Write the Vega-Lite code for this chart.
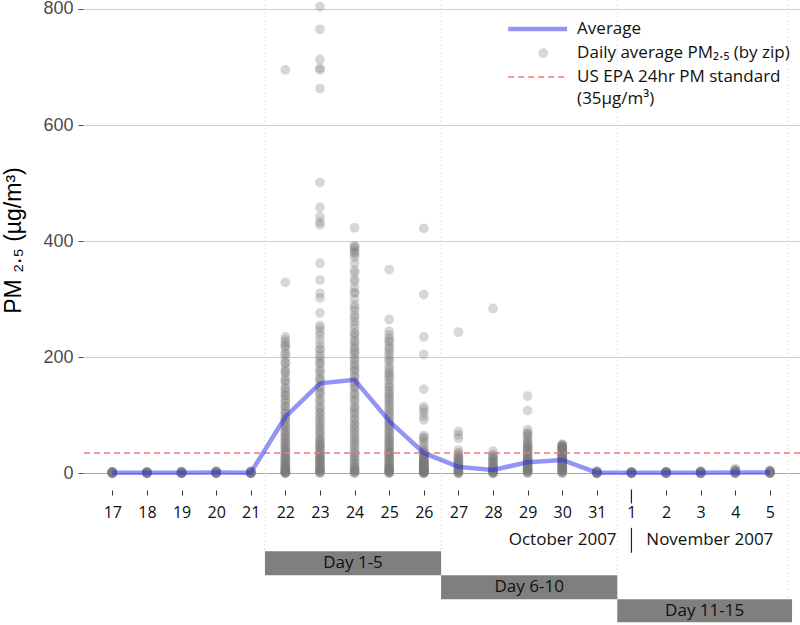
{
  "$schema": "https://vega.github.io/schema/vega-lite/v6.json",
  "autosize": {"type": "none"},
  "padding": {"left": 83, "top": 0, "right": 0, "bottom": 137},
  "width": 717,
  "height": 488,
  "background": "white",
  "config": {"view": {"stroke": null}, "font": "Open Sans", "axisX": {"tickCount": 20, "labelOverlap": false}},
  "datasets": {
    "zips": [
      {"d":0,"v":0},{"d":0,"v":0.5},{"d":0,"v":1},{"d":0,"v":1.5},{"d":0,"v":2},{"d":0,"v":3},{"d":0,"v":0},{"d":0,"v":0.3},{"d":0,"v":0.8},{"d":0,"v":1.2},{"d":0,"v":0.6},{"d":0,"v":1.8},
      {"d":1,"v":0},{"d":1,"v":0.5},{"d":1,"v":1},{"d":1,"v":1.5},{"d":1,"v":2},{"d":1,"v":2.5},{"d":1,"v":0},{"d":1,"v":0.3},{"d":1,"v":0.8},{"d":1,"v":1.2},{"d":1,"v":0.6},{"d":1,"v":1.8},
      {"d":2,"v":0},{"d":2,"v":0.5},{"d":2,"v":1},{"d":2,"v":2},{"d":2,"v":2.5},{"d":2,"v":3},{"d":2,"v":0},{"d":2,"v":0.3},{"d":2,"v":0.8},{"d":2,"v":1.2},{"d":2,"v":0.6},{"d":2,"v":1.8},
      {"d":3,"v":0},{"d":3,"v":1},{"d":3,"v":1.5},{"d":3,"v":2},{"d":3,"v":3},{"d":3,"v":4},{"d":3,"v":0},{"d":3,"v":0.3},{"d":3,"v":0.8},{"d":3,"v":1.2},{"d":3,"v":0.6},{"d":3,"v":2.5},
      {"d":4,"v":0},{"d":4,"v":0.5},{"d":4,"v":1},{"d":4,"v":2},{"d":4,"v":3},{"d":4,"v":3.5},{"d":4,"v":0},{"d":4,"v":0.3},{"d":4,"v":0.8},{"d":4,"v":1.2},{"d":4,"v":0.6},{"d":4,"v":1.8},
      {"d":5,"v":695},{"d":5,"v":329},{"d":5,"v":235},{"d":5,"v":230},{"d":5,"v":226},{"d":5,"v":220},{"d":5,"v":214},{"d":5,"v":206},{"d":5,"v":198},{"d":5,"v":190},
      {"d":5,"v":182},{"d":5,"v":175},{"d":5,"v":168},{"d":5,"v":160},{"d":5,"v":154},{"d":5,"v":147},{"d":5,"v":140},{"d":5,"v":134},{"d":5,"v":128},{"d":5,"v":121},
      {"d":5,"v":115},{"d":5,"v":109},{"d":5,"v":103},{"d":5,"v":97},{"d":5,"v":92},{"d":5,"v":86},{"d":5,"v":80},{"d":5,"v":75},{"d":5,"v":70},{"d":5,"v":65},
      {"d":5,"v":60},{"d":5,"v":55},{"d":5,"v":50},{"d":5,"v":46},{"d":5,"v":42},{"d":5,"v":38},{"d":5,"v":34},{"d":5,"v":30},{"d":5,"v":27},{"d":5,"v":24},
      {"d":5,"v":20},{"d":5,"v":17},{"d":5,"v":14},{"d":5,"v":11},{"d":5,"v":8},{"d":5,"v":6},{"d":5,"v":4},{"d":5,"v":2},{"d":5,"v":1},{"d":5,"v":0},
      {"d":5,"v":0},{"d":5,"v":1},{"d":5,"v":2},{"d":5,"v":3},{"d":5,"v":5},{"d":5,"v":7},{"d":5,"v":9},{"d":5,"v":12},{"d":5,"v":15},{"d":5,"v":18},
      {"d":5,"v":22},{"d":5,"v":26},{"d":5,"v":30},{"d":5,"v":35},{"d":5,"v":40},{"d":5,"v":45},{"d":5,"v":52},{"d":5,"v":58},{"d":5,"v":64},{"d":5,"v":72},
      {"d":5,"v":80},{"d":5,"v":88},{"d":5,"v":96},{"d":5,"v":105},{"d":5,"v":115},{"d":5,"v":125},{"d":5,"v":135},{"d":5,"v":145},{"d":5,"v":160},{"d":5,"v":175},
      {"d":5,"v":190},{"d":5,"v":205},{"d":5,"v":220},
      {"d":6,"v":804},{"d":6,"v":765},{"d":6,"v":713},{"d":6,"v":698},{"d":6,"v":695},{"d":6,"v":663},{"d":6,"v":501},{"d":6,"v":458},{"d":6,"v":442},{"d":6,"v":433},
      {"d":6,"v":428},{"d":6,"v":362},{"d":6,"v":333},{"d":6,"v":310},{"d":6,"v":302},{"d":6,"v":276},{"d":6,"v":255},{"d":6,"v":250},{"d":6,"v":244},{"d":6,"v":238},
      {"d":6,"v":230},{"d":6,"v":222},{"d":6,"v":212},{"d":6,"v":205},{"d":6,"v":195},{"d":6,"v":188},{"d":6,"v":180},{"d":6,"v":172},{"d":6,"v":165},{"d":6,"v":158},
      {"d":6,"v":150},{"d":6,"v":142},{"d":6,"v":135},{"d":6,"v":128},{"d":6,"v":120},{"d":6,"v":112},{"d":6,"v":105},{"d":6,"v":98},{"d":6,"v":90},{"d":6,"v":82},
      {"d":6,"v":75},{"d":6,"v":68},{"d":6,"v":60},{"d":6,"v":52},{"d":6,"v":45},{"d":6,"v":40},{"d":6,"v":35},{"d":6,"v":30},{"d":6,"v":26},{"d":6,"v":22},
      {"d":6,"v":18},{"d":6,"v":14},{"d":6,"v":10},{"d":6,"v":6},{"d":6,"v":3},{"d":6,"v":1},{"d":6,"v":0},{"d":6,"v":8},{"d":6,"v":16},{"d":6,"v":24},
      {"d":6,"v":33},{"d":6,"v":48},{"d":6,"v":56},
      {"d":6,"v":2},{"d":6,"v":4},{"d":6,"v":7},{"d":6,"v":11},{"d":6,"v":15},{"d":6,"v":20},{"d":6,"v":25},{"d":6,"v":30},{"d":6,"v":38},{"d":6,"v":44},
      {"d":6,"v":50},{"d":6,"v":58},{"d":6,"v":65},{"d":6,"v":72},{"d":6,"v":80},{"d":6,"v":88},{"d":6,"v":95},{"d":6,"v":104},{"d":6,"v":113},{"d":6,"v":125},
      {"d":6,"v":138},{"d":6,"v":148},{"d":6,"v":162},{"d":6,"v":176},{"d":6,"v":190},{"d":6,"v":200},{"d":6,"v":215},
      {"d":7,"v":423},{"d":7,"v":392},{"d":7,"v":388},{"d":7,"v":383},{"d":7,"v":378},{"d":7,"v":372},{"d":7,"v":350},{"d":7,"v":345},{"d":7,"v":335},{"d":7,"v":320},
      {"d":7,"v":312},{"d":7,"v":300},{"d":7,"v":290},{"d":7,"v":280},{"d":7,"v":272},{"d":7,"v":262},{"d":7,"v":250},{"d":7,"v":242},{"d":7,"v":235},{"d":7,"v":228},
      {"d":7,"v":220},{"d":7,"v":212},{"d":7,"v":205},{"d":7,"v":198},{"d":7,"v":190},{"d":7,"v":182},{"d":7,"v":175},{"d":7,"v":168},{"d":7,"v":160},{"d":7,"v":152},
      {"d":7,"v":145},{"d":7,"v":138},{"d":7,"v":130},{"d":7,"v":122},{"d":7,"v":115},{"d":7,"v":108},{"d":7,"v":100},{"d":7,"v":92},{"d":7,"v":85},{"d":7,"v":78},
      {"d":7,"v":70},{"d":7,"v":62},{"d":7,"v":55},{"d":7,"v":48},{"d":7,"v":40},{"d":7,"v":34},{"d":7,"v":28},{"d":7,"v":22},{"d":7,"v":16},{"d":7,"v":10},
      {"d":7,"v":5},{"d":7,"v":2},{"d":7,"v":0},
      {"d":7,"v":1},{"d":7,"v":3},{"d":7,"v":6},{"d":7,"v":9},{"d":7,"v":13},{"d":7,"v":18},{"d":7,"v":24},{"d":7,"v":30},{"d":7,"v":36},{"d":7,"v":44},
      {"d":7,"v":52},{"d":7,"v":60},{"d":7,"v":68},{"d":7,"v":76},{"d":7,"v":84},{"d":7,"v":94},{"d":7,"v":104},{"d":7,"v":112},{"d":7,"v":126},{"d":7,"v":136},
      {"d":7,"v":148},{"d":7,"v":156},{"d":7,"v":166},{"d":7,"v":178},{"d":7,"v":186},{"d":7,"v":196},{"d":7,"v":208},{"d":7,"v":216},{"d":7,"v":226},{"d":7,"v":240},
      {"d":7,"v":256},{"d":7,"v":268},{"d":7,"v":285},{"d":7,"v":310},{"d":7,"v":330},{"d":7,"v":362},{"d":7,"v":380},{"d":7,"v":390},
      {"d":8,"v":351},{"d":8,"v":265},{"d":8,"v":245},{"d":8,"v":238},{"d":8,"v":232},{"d":8,"v":225},{"d":8,"v":218},{"d":8,"v":210},{"d":8,"v":200},{"d":8,"v":192},
      {"d":8,"v":185},{"d":8,"v":176},{"d":8,"v":168},{"d":8,"v":160},{"d":8,"v":150},{"d":8,"v":142},{"d":8,"v":135},{"d":8,"v":128},{"d":8,"v":120},{"d":8,"v":112},
      {"d":8,"v":105},{"d":8,"v":98},{"d":8,"v":90},{"d":8,"v":84},{"d":8,"v":78},{"d":8,"v":72},{"d":8,"v":66},{"d":8,"v":60},{"d":8,"v":55},{"d":8,"v":50},
      {"d":8,"v":45},{"d":8,"v":40},{"d":8,"v":36},{"d":8,"v":32},{"d":8,"v":28},{"d":8,"v":24},{"d":8,"v":20},{"d":8,"v":17},{"d":8,"v":14},{"d":8,"v":11},
      {"d":8,"v":8},{"d":8,"v":6},{"d":8,"v":4},{"d":8,"v":2},{"d":8,"v":1},{"d":8,"v":0},
      {"d":8,"v":1},{"d":8,"v":3},{"d":8,"v":5},{"d":8,"v":9},{"d":8,"v":12},{"d":8,"v":16},{"d":8,"v":22},{"d":8,"v":26},{"d":8,"v":30},{"d":8,"v":34},
      {"d":8,"v":38},{"d":8,"v":43},{"d":8,"v":48},{"d":8,"v":53},{"d":8,"v":58},{"d":8,"v":63},{"d":8,"v":70},{"d":8,"v":76},{"d":8,"v":82},{"d":8,"v":88},
      {"d":8,"v":95},{"d":8,"v":102},{"d":8,"v":110},{"d":8,"v":118},{"d":8,"v":125},{"d":8,"v":132},{"d":8,"v":140},{"d":8,"v":148},{"d":8,"v":155},{"d":8,"v":165},
      {"d":8,"v":172},{"d":8,"v":180},{"d":8,"v":195},{"d":8,"v":205},{"d":8,"v":215},{"d":8,"v":228},
      {"d":9,"v":422},{"d":9,"v":308},{"d":9,"v":235},{"d":9,"v":205},{"d":9,"v":145},{"d":9,"v":115},{"d":9,"v":110},{"d":9,"v":105},{"d":9,"v":98},{"d":9,"v":92},
      {"d":9,"v":65},{"d":9,"v":60},{"d":9,"v":45},{"d":9,"v":40},{"d":9,"v":35},{"d":9,"v":32},{"d":9,"v":30},{"d":9,"v":28},{"d":9,"v":25},{"d":9,"v":22},
      {"d":9,"v":20},{"d":9,"v":18},{"d":9,"v":15},{"d":9,"v":12},{"d":9,"v":10},{"d":9,"v":8},{"d":9,"v":6},{"d":9,"v":4},{"d":9,"v":2},{"d":9,"v":1},
      {"d":9,"v":0},{"d":9,"v":3},{"d":9,"v":5},{"d":9,"v":7},{"d":9,"v":9},{"d":9,"v":14},{"d":9,"v":19},{"d":9,"v":24},
      {"d":9,"v":0},{"d":9,"v":1},{"d":9,"v":2},{"d":9,"v":3},{"d":9,"v":4},{"d":9,"v":5},{"d":9,"v":6},{"d":9,"v":8},{"d":9,"v":10},{"d":9,"v":12},
      {"d":9,"v":14},{"d":9,"v":16},{"d":9,"v":18},{"d":9,"v":20},{"d":9,"v":22},{"d":9,"v":26},{"d":9,"v":30},{"d":9,"v":34},{"d":9,"v":38},{"d":9,"v":50},
      {"d":9,"v":55},{"d":9,"v":62},
      {"d":10,"v":243},{"d":10,"v":72},{"d":10,"v":66},{"d":10,"v":60},{"d":10,"v":40},{"d":10,"v":35},{"d":10,"v":30},{"d":10,"v":26},{"d":10,"v":22},{"d":10,"v":18},
      {"d":10,"v":15},{"d":10,"v":12},{"d":10,"v":9},{"d":10,"v":6},{"d":10,"v":3},{"d":10,"v":1},{"d":10,"v":0},
      {"d":10,"v":0},{"d":10,"v":2},{"d":10,"v":4},{"d":10,"v":5},{"d":10,"v":8},{"d":10,"v":10},{"d":10,"v":14},{"d":10,"v":17},{"d":10,"v":20},{"d":10,"v":24},
      {"d":10,"v":28},{"d":10,"v":33},
      {"d":11,"v":284},{"d":11,"v":38},{"d":11,"v":32},{"d":11,"v":28},{"d":11,"v":24},{"d":11,"v":20},{"d":11,"v":16},{"d":11,"v":12},{"d":11,"v":8},{"d":11,"v":5},
      {"d":11,"v":3},{"d":11,"v":1},{"d":11,"v":0},
      {"d":11,"v":0},{"d":11,"v":1},{"d":11,"v":2},{"d":11,"v":4},{"d":11,"v":6},{"d":11,"v":9},{"d":11,"v":11},{"d":11,"v":14},{"d":11,"v":18},{"d":11,"v":22},
      {"d":11,"v":26},{"d":11,"v":30},
      {"d":12,"v":133},{"d":12,"v":108},{"d":12,"v":75},{"d":12,"v":70},{"d":12,"v":65},{"d":12,"v":58},{"d":12,"v":52},{"d":12,"v":48},{"d":12,"v":44},{"d":12,"v":40},
      {"d":12,"v":36},{"d":12,"v":32},{"d":12,"v":28},{"d":12,"v":25},{"d":12,"v":22},{"d":12,"v":19},{"d":12,"v":16},{"d":12,"v":13},{"d":12,"v":10},{"d":12,"v":8},
      {"d":12,"v":6},{"d":12,"v":4},{"d":12,"v":2},{"d":12,"v":1},{"d":12,"v":0},
      {"d":12,"v":3},{"d":12,"v":5},{"d":12,"v":7},{"d":12,"v":9},{"d":12,"v":12},{"d":12,"v":15},{"d":12,"v":18},{"d":12,"v":21},{"d":12,"v":24},{"d":12,"v":27},
      {"d":12,"v":30},{"d":12,"v":34},{"d":12,"v":38},{"d":12,"v":42},{"d":12,"v":46},{"d":12,"v":50},{"d":12,"v":55},{"d":12,"v":62},{"d":12,"v":68},
      {"d":13,"v":50},{"d":13,"v":48},{"d":13,"v":46},{"d":13,"v":44},{"d":13,"v":42},{"d":13,"v":40},{"d":13,"v":38},{"d":13,"v":36},{"d":13,"v":34},{"d":13,"v":32},
      {"d":13,"v":30},{"d":13,"v":28},{"d":13,"v":26},{"d":13,"v":24},{"d":13,"v":22},{"d":13,"v":20},{"d":13,"v":18},{"d":13,"v":15},{"d":13,"v":12},{"d":13,"v":9},
      {"d":13,"v":6},{"d":13,"v":3},{"d":13,"v":1},{"d":13,"v":0},
      {"d":13,"v":2},{"d":13,"v":4},{"d":13,"v":5},{"d":13,"v":7},{"d":13,"v":8},{"d":13,"v":10},{"d":13,"v":11},{"d":13,"v":13},{"d":13,"v":14},{"d":13,"v":16},
      {"d":13,"v":17},{"d":13,"v":19},{"d":13,"v":21},{"d":13,"v":23},{"d":13,"v":25},{"d":13,"v":27},{"d":13,"v":29},{"d":13,"v":31},{"d":13,"v":33},{"d":13,"v":35},
      {"d":13,"v":37},{"d":13,"v":39},{"d":13,"v":41},{"d":13,"v":43},{"d":13,"v":45},{"d":13,"v":47},{"d":13,"v":49},
      {"d":14,"v":0},{"d":14,"v":0.5},{"d":14,"v":1},{"d":14,"v":2},{"d":14,"v":3},{"d":14,"v":4},{"d":14,"v":0},{"d":14,"v":0.3},{"d":14,"v":0.8},{"d":14,"v":1.2},{"d":14,"v":1.6},{"d":14,"v":2.5},
      {"d":15,"v":0},{"d":15,"v":0.5},{"d":15,"v":1},{"d":15,"v":1.5},{"d":15,"v":2},{"d":15,"v":3},{"d":15,"v":0},{"d":15,"v":0.3},{"d":15,"v":0.8},{"d":15,"v":1.2},{"d":15,"v":0.6},{"d":15,"v":1.8},
      {"d":16,"v":0},{"d":16,"v":0.5},{"d":16,"v":1},{"d":16,"v":2},{"d":16,"v":2.5},{"d":16,"v":3},{"d":16,"v":0},{"d":16,"v":0.3},{"d":16,"v":0.8},{"d":16,"v":1.2},{"d":16,"v":0.6},{"d":16,"v":1.8},
      {"d":17,"v":0},{"d":17,"v":1},{"d":17,"v":1.5},{"d":17,"v":2},{"d":17,"v":3},{"d":17,"v":4},{"d":17,"v":0},{"d":17,"v":0.3},{"d":17,"v":0.8},{"d":17,"v":1.2},{"d":17,"v":0.6},{"d":17,"v":2.5},
      {"d":18,"v":0},{"d":18,"v":1},{"d":18,"v":2},{"d":18,"v":3},{"d":18,"v":5},{"d":18,"v":8},{"d":18,"v":0},{"d":18,"v":0.5},{"d":18,"v":1.5},{"d":18,"v":2.5},{"d":18,"v":4},{"d":18,"v":6},
      {"d":19,"v":0},{"d":19,"v":1},{"d":19,"v":2},{"d":19,"v":3},{"d":19,"v":4},{"d":19,"v":5},{"d":19,"v":0},{"d":19,"v":0.5},{"d":19,"v":1.5},{"d":19,"v":2.5},{"d":19,"v":3.5},{"d":19,"v":1.2}
    ],
    "avg": [
      {"d":0,"v":0.8},{"d":1,"v":0.8},{"d":2,"v":0.9},{"d":3,"v":1.2},{"d":4,"v":1.0},
      {"d":5,"v":97},{"d":6,"v":155},{"d":7,"v":161},{"d":8,"v":90},{"d":9,"v":35},
      {"d":10,"v":11},{"d":11,"v":5.7},{"d":12,"v":19},{"d":13,"v":23},{"d":14,"v":1},
      {"d":15,"v":0.8},{"d":16,"v":0.8},{"d":17,"v":1},{"d":18,"v":1.5},{"d":19,"v":1.2}
    ],
    "vlines": [
      {"d":4.41,"v":815.5,"v2":-134},
      {"d":9.5,"v":815.5,"v2":-134},
      {"d":14.59,"v":815.5,"v2":-217},
      {"d":19.52,"v":815.5,"v2":-217}
    ],
    "seps": [
      {"d":15,"v":-28,"v2":-52},
      {"d":15,"v":-94,"v2":-137}
    ],
    "periods": [
      {"label":"Day 1-5","d":4.41,"d2":9.5,"v":-134.4,"v2":-175.7,"dm":6.955,"vm":-155},
      {"label":"Day 6-10","d":9.5,"d2":14.59,"v":-175.7,"v2":-217,"dm":12.045,"vm":-196.3},
      {"label":"Day 11-15","d":14.59,"d2":19.64,"v":-217,"v2":-256.7,"dm":17.115,"vm":-236.8}
    ],
    "legendText": [
      {"label":"Average","d":13.43,"v":765.5},
      {"label":"Daily average PM₂.₅ (by zip)","d":13.43,"v":724},
      {"label":"US EPA 24hr PM standard","d":13.43,"v":683},
      {"label":"(35µg/m³)","d":13.43,"v":645}
    ]
  },
  "layer": [
    {
      "data": {"name": "vlines"},
      "mark": {"type": "rule", "color": "#e4e4e4", "strokeWidth": 1, "strokeDash": [2, 2]},
      "encoding": {
        "x": {
          "field": "d", "type": "quantitative",
          "scale": {"domain": [-0.847, 19.87], "nice": false, "zero": false},
          "axis": {
            "values": [0,1,2,3,4,5,6,7,8,9,10,11,12,13,14,15,16,17,18,19],
            "tickCount": 20,
            "labelExpr": "'' + (datum.value <= 14 ? datum.value + 17 : datum.value - 14)",
            "labelOverlap": false, "labelFlush": false,
            "grid": false, "domain": false, "title": null,
            "tickColor": "#333333", "tickSize": 5, "tickWidth": 1,
            "labelFont": "Open Sans", "labelFontSize": 16, "labelColor": "#111111",
            "labelPadding": 9, "offset": 2
          }
        },
        "y": {
          "field": "v", "type": "quantitative",
          "scale": {"domain": [-25.4, 815.5], "nice": false, "zero": false},
          "axis": {
            "values": [0, 200, 400, 600, 800],
            "labelOverlap": false, "labelFlush": false,
            "grid": true,
            "gridColor": {"condition": {"test": "datum.value === 0", "value": "#a8a8a8"}, "value": "#cccccc"},
            "gridWidth": 1,
            "domain": false,
            "tickColor": "#4d4d4d", "tickSize": 5, "tickWidth": 1,
            "labelFont": "Liberation Sans", "labelFontSize": 18, "labelColor": "#4d4d4d",
            "labelPadding": 5,
            "title": "PM ₂.₅ (µg/m³)",
            "titleFont": "Liberation Sans", "titleFontSize": 23, "titleFontWeight": "normal",
            "titleColor": "#000000", "titleAngle": 270,
            "titleX": -70, "titleY": 240, "titleAlign": "center", "titleBaseline": "middle"
          }
        },
        "y2": {"field": "v2"}
      }
    },
    {
      "data": {"name": "zips"},
      "mark": {"type": "circle", "size": 95, "color": "#7a7a7a", "opacity": 0.3},
      "encoding": {
        "x": {"field": "d", "type": "quantitative"},
        "y": {"field": "v", "type": "quantitative"}
      }
    },
    {
      "data": {"values": [{}]},
      "mark": {"type": "rule", "color": "#f07878", "strokeWidth": 1.5, "strokeDash": [6, 4]},
      "encoding": {"y": {"datum": 35}}
    },
    {
      "data": {"name": "avg"},
      "mark": {"type": "line", "color": "#2a2af0", "opacity": 0.5, "strokeWidth": 4.5},
      "encoding": {
        "x": {"field": "d", "type": "quantitative"},
        "y": {"field": "v", "type": "quantitative"}
      }
    },
    {
      "data": {"name": "seps"},
      "mark": {"type": "rule", "color": "#222222", "strokeWidth": 1.2},
      "encoding": {
        "x": {"field": "d", "type": "quantitative"},
        "y": {"field": "v", "type": "quantitative"},
        "y2": {"field": "v2"}
      }
    },
    {
      "data": {"values": [{"label": "October 2007", "d": 14.57, "v": -115}]},
      "mark": {"type": "text", "font": "Open Sans", "fontSize": 17, "color": "#111111", "baseline": "middle", "align": "right"},
      "encoding": {
        "x": {"field": "d", "type": "quantitative"},
        "y": {"field": "v", "type": "quantitative"},
        "text": {"field": "label"}
      }
    },
    {
      "data": {"values": [{"label": "November 2007", "d": 15.43, "v": -115}]},
      "mark": {"type": "text", "font": "Open Sans", "fontSize": 17, "color": "#111111", "baseline": "middle", "align": "left"},
      "encoding": {
        "x": {"field": "d", "type": "quantitative"},
        "y": {"field": "v", "type": "quantitative"},
        "text": {"field": "label"}
      }
    },
    {
      "data": {"name": "periods"},
      "mark": {"type": "rect", "color": "#7f7f7f"},
      "encoding": {
        "x": {"field": "d", "type": "quantitative"},
        "x2": {"field": "d2"},
        "y": {"field": "v", "type": "quantitative"},
        "y2": {"field": "v2"}
      }
    },
    {
      "data": {"name": "periods"},
      "mark": {"type": "text", "font": "Open Sans", "fontSize": 17, "color": "#111111", "baseline": "middle", "align": "center"},
      "encoding": {
        "x": {"field": "dm", "type": "quantitative"},
        "y": {"field": "vm", "type": "quantitative"},
        "text": {"field": "label"}
      }
    },
    {
      "data": {"values": [{"d": 11.44, "d2": 13.14, "v": 765.5}]},
      "mark": {"type": "rule", "color": "#2a2af0", "opacity": 0.5, "strokeWidth": 4.5},
      "encoding": {
        "x": {"field": "d", "type": "quantitative"},
        "x2": {"field": "d2"},
        "y": {"field": "v", "type": "quantitative"}
      }
    },
    {
      "data": {"values": [{"d": 12.45, "v": 724}]},
      "mark": {"type": "circle", "size": 95, "color": "#7a7a7a", "opacity": 0.3},
      "encoding": {
        "x": {"field": "d", "type": "quantitative"},
        "y": {"field": "v", "type": "quantitative"}
      }
    },
    {
      "data": {"values": [{"d": 11.44, "d2": 13.14, "v": 683}]},
      "mark": {"type": "rule", "color": "#f07878", "strokeWidth": 1.5, "strokeDash": [6, 4]},
      "encoding": {
        "x": {"field": "d", "type": "quantitative"},
        "x2": {"field": "d2"},
        "y": {"field": "v", "type": "quantitative"}
      }
    },
    {
      "data": {"name": "legendText"},
      "mark": {"type": "text", "font": "Open Sans", "fontSize": 17, "color": "#111111", "baseline": "middle", "align": "left"},
      "encoding": {
        "x": {"field": "d", "type": "quantitative"},
        "y": {"field": "v", "type": "quantitative"},
        "text": {"field": "label"}
      }
    }
  ]
}
